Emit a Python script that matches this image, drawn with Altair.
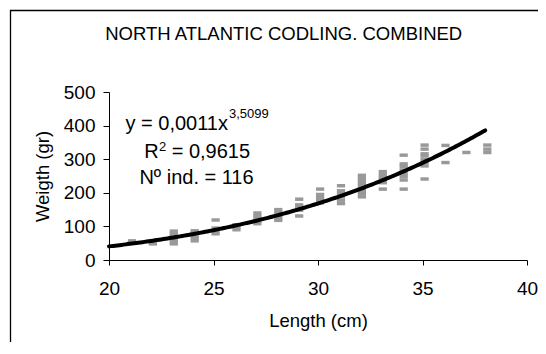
import altair as alt
import pandas as pd

# ---- data ----
lengths = [21.1, 22.1, 23.1, 24.1, 25.1, 26.1, 27.1, 28.1, 29.1, 30.1,
           31.1, 32.1, 33.1, 34.1, 35.1, 36.1, 37.1, 38.1]
weights = [
    [52, 57],
    [48, 55],
    [48, 55, 62, 70, 78, 86],
    [57, 65, 72, 80, 87],
    [78, 86, 95, 119],
    [90, 98, 105],
    [108, 116, 124, 132, 140],
    [118, 126, 134, 142, 150],
    [131, 148, 156, 164, 181],
    [170, 178, 186, 195, 211],
    [168, 178, 188, 198, 206, 221],
    [188, 196, 204, 212, 220, 228, 236, 244, 252],
    [211, 230, 238, 246, 254, 263],
    [211, 238, 248, 258, 268, 278, 286, 312],
    [241, 280, 290, 300, 310, 316, 330, 342],
    [290, 341],
    [320],
    [320, 330, 342],
]
fit_coef = 0.0011
fit_exp = 3.5099
fit_start = 20
fit_end = 38
x_ticks = [20, 25, 30, 35, 40]
y_ticks = [0, 100, 200, 300, 400, 500]
title_text = "NORTH ATLANTIC CODLING. COMBINED"
x_title = "Length (cm)"
y_title = "Weigth (gr)"

rows = [{"length": L, "weight": w} for L, ws in zip(lengths, weights) for w in ws]
pts = pd.DataFrame(rows)

FONT = "Arial, 'Liberation Sans', sans-serif"
W, H = 418, 168

xscale = alt.Scale(domain=[20, 40], nice=False, zero=False)
yscale = alt.Scale(domain=[0, 500], nice=False)

xaxis = alt.Axis(values=x_ticks, tickCount=5, grid=False, tickSize=5, labelPadding=29,
                 labelBaseline="alphabetic", labelFontSize=19, labelFont=FONT,
                 labelFlush=False, labelOverlap=False,
                 labelColor="black", domainColor="black", tickColor="black",
                 title=x_title, titleFont=FONT, titleFontSize=18.5,
                 titleFontWeight="normal", titleColor="black",
                 titleBaseline="alphabetic", titleY=66, titleX=W / 2,
                 titleAlign="center")
yaxis = alt.Axis(values=y_ticks, tickCount=6, grid=False, tickSize=6, labelPadding=8,
                 labelBaseline="middle", labelFontSize=19, labelFont=FONT,
                 labelFlush=False, labelOverlap=False,
                 labelColor="black", domainColor="black", tickColor="black",
                 title=y_title, titleFont=FONT, titleFontSize=18.5,
                 titleFontWeight="normal", titleColor="black",
                 titleBaseline="alphabetic", titleX=-61, titleY=H / 2,
                 titleAlign="center", titleAngle=270)

dash = "M-1,-0.42H1V0.42H-1Z"
points = alt.Chart(pts).mark_point(
    shape=dash, filled=True, size=68, color="#999999", opacity=1, strokeWidth=0
).encode(
    x=alt.X("length:Q", scale=xscale, axis=xaxis),
    y=alt.Y("weight:Q", scale=yscale, axis=yaxis),
)

curve = alt.Chart(alt.sequence(fit_start, fit_end + 0.001, 0.1, as_="length")).transform_calculate(
    weight=f"{fit_coef} * pow(datum.length, {fit_exp})"
).mark_line(color="black", strokeWidth=4, strokeCap="round").encode(
    x=alt.X("length:Q", scale=xscale, axis=xaxis),
    y=alt.Y("weight:Q", scale=yscale, axis=yaxis),
)

def txt(text, x, y, size, align="center"):
    return alt.Chart(pd.DataFrame({"t": [text]})).mark_text(
        font=FONT, fontSize=size, color="black", align=align, baseline="alphabetic"
    ).encode(text="t:N", x=alt.value(x), y=alt.value(y))

title = txt(title_text, 174.7, -52, 18.5)
eq1 = txt("y = 0,0011x", 119, 38.3, 20, "right")
eq1s = txt("3,5099", 120, 26, 13, "left")
r2a = txt("R", 35.3, 65.6, 20, "left")
r2s = txt("2", 50, 59.3, 13, "left")
r2b = txt("= 0,9615", 62.7, 65.6, 20, "left")
nind = txt("Nº ind. = 116", 87.5, 91.6, 20)

border = alt.Chart(pd.DataFrame({"a": [0]})).mark_rect(
    fill=None, stroke="black", strokeWidth=1.3
).encode(x=alt.value(-98.5), x2=alt.value(460), y=alt.value(-81.5), y2=alt.value(300))

chart = alt.layer(
    border, points, curve, title, eq1, eq1s, r2a, r2s, r2b, nind
).properties(
    width=W, height=H,
    autosize=alt.AutoSizeParams(type="none"),
    padding={"left": 101, "top": 84, "right": 11, "bottom": 82},
    background="white",
).configure_view(stroke=None)

chart.save("out.html", embed_options={"renderer": "svg", "actions": False})
